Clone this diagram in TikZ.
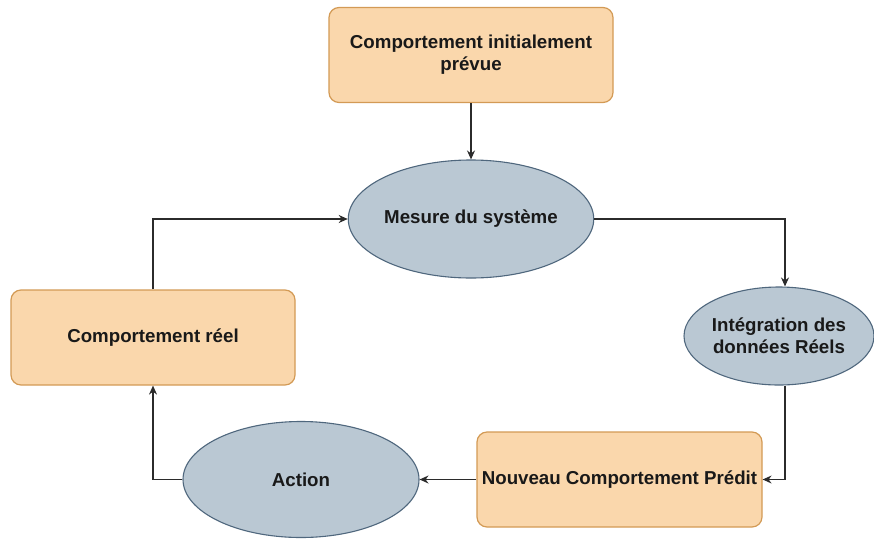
\documentclass[tikz,border=0pt]{standalone}
\usepackage{fontspec}
\setmainfont{Liberation Sans}
\usetikzlibrary{arrows.meta,shapes.geometric}
\definecolor{orfill}{HTML}{FAD7AC}
\definecolor{ordraw}{HTML}{D39A55}
\definecolor{blfill}{HTML}{BAC8D3}
\definecolor{bldraw}{HTML}{4F677D}
\definecolor{lncol}{HTML}{2B2B2B}
\tikzset{
  obox/.style={draw=ordraw, fill=orfill, line width=1.2pt, rounded corners=10pt,
    inner sep=0pt, align=center, font=\fontsize{18.7}{22}\selectfont\bfseries, text=black!90},
  bell/.style={draw=bldraw, fill=blfill, line width=1.1pt, ellipse,
    inner sep=0pt, align=center, font=\fontsize{18.7}{22}\selectfont\bfseries, text=black!90},
  conn/.style={draw=lncol, line width=1.3pt, -{Stealth[length=9pt,width=8pt]}}
}
\begin{document}
\begin{tikzpicture}[x=1pt,y=-1pt]
\useasboundingbox (0,0) rectangle (874,538);
\node[obox, minimum width=284pt, minimum height=95pt] (init) at (471,55) {Comportement initialement\\prévue};
\node[bell, minimum width=238pt, minimum height=118pt] (mes) at (471,219) {Mesure du système};
\node[bell, minimum width=190pt, minimum height=98pt] (integ) at (779,336) {Intégration des\\données Réels};
\node[obox, minimum width=284pt, minimum height=95pt] (reel) at (153,337.5) {Comportement réel};
\node[bell, minimum width=236pt, minimum height=116pt] (act) at (301,479.5) {Action};
\node[obox, minimum width=285pt, minimum height=95pt] (nouv) at (619.5,479.5) {Nouveau Comportement Prédit};

\draw[conn] (init.south) -- (mes.north);
\draw[conn] (mes.east) -| (integ.north -| 785,0);
\draw[conn] (integ.south -| 785,0) |- (nouv.east);
\draw[conn] (nouv.west) -- (act.east);
\draw[conn] (act.west) -| (reel.south);
\draw[conn] (reel.north) |- (mes.west);
\end{tikzpicture}
\end{document}
